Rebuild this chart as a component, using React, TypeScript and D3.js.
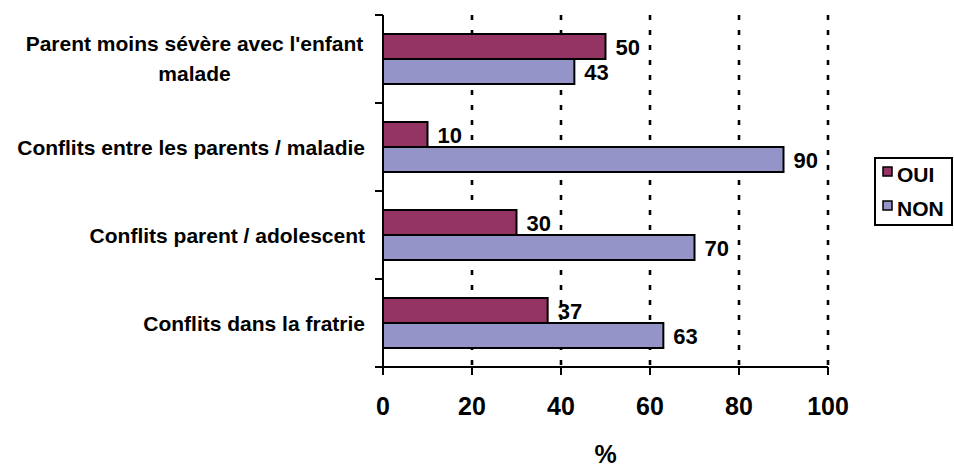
import React from "react";
import * as d3 from "d3";

const categories = [
  "Parent moins sévère avec l'enfant\nmalade",
  "Conflits entre les parents / maladie",
  "Conflits parent / adolescent",
  "Conflits dans la fratrie",
];
const seriesNames = ["OUI", "NON"];
const ouiValues = [50, 10, 30, 37];
const nonValues = [43, 90, 70, 63];
const xTicks = [0, 20, 40, 60, 80, 100];
const axisTitle = "%";

const colors = ["#943462", "#9494C8"];
const FONT = "'Liberation Sans', Arial, Helvetica, sans-serif";

export default function App() {
  const W = 954, H = 467;
  const left = 383, right = 828, top = 15, bottom = 367;
  const x = d3.scaleLinear().domain([0, 100]).range([left, right]);
  const y = d3.scaleBand<number>().domain(d3.range(categories.length)).range([top, bottom]).paddingInner(0).paddingOuter(0);
  const band = y.bandwidth();
  const groupH = 50;
  const inner = d3.scaleBand<number>().domain([0, 1]).range([0, groupH]);
  const series = [ouiValues, nonValues];
  const boundaries = d3.range(categories.length + 1).map((i) => top + i * band);

  return (
    <svg width={W} height={H} style={{ position: "absolute", left: 0, top: 0, background: "#fff" }} fontFamily={FONT} fontWeight="bold">
      {/* gridlines */}
      {xTicks.filter((t) => t > 0).map((t) => (
        <line key={"g" + t} x1={x(t)} x2={x(t)} y1={top} y2={bottom} stroke="#000" strokeWidth={2.6} strokeDasharray="5 10" />
      ))}
      {/* bars */}
      {categories.map((c, i) => {
        const y0 = (y(i) as number) + (band - groupH) / 2;
        return series.map((vals, s) => (
          <rect key={c + s} x={x(0)} y={y0 + (inner(s) as number)} width={x(vals[i]) - x(0)} height={inner.bandwidth()} fill={colors[s]} stroke="#000" strokeWidth={2} />
        ));
      })}
      {/* value labels */}
      {categories.map((c, i) => {
        const y0 = (y(i) as number) + (band - groupH) / 2;
        return series.map((vals, s) => (
          <text key={"v" + c + s} x={x(vals[i]) + 10} y={y0 + (inner(s) as number) + inner.bandwidth() / 2 + 8} fontSize={22} fill="#000">
            {vals[i]}
          </text>
        ));
      })}
      {/* y axis */}
      <line x1={left} x2={left} y1={top} y2={bottom} stroke="#000" strokeWidth={2} />
      {boundaries.map((b, i) => (
        <line key={"yt" + i} x1={left - 8} x2={left} y1={b} y2={b} stroke="#000" strokeWidth={2} />
      ))}
      {/* x axis */}
      <line x1={left - 8} x2={right} y1={bottom} y2={bottom} stroke="#000" strokeWidth={2} />
      {xTicks.map((t) => (
        <g key={"xt" + t}>
          <line x1={x(t)} x2={x(t)} y1={bottom} y2={bottom + 8} stroke="#000" strokeWidth={2} />
          <text x={x(t)} y={415} textAnchor="middle" fontSize={25} fill="#000">{t}</text>
        </g>
      ))}
      <text x={(left + right) / 2} y={463} textAnchor="middle" fontSize={25} fill="#000">{axisTitle}</text>
      {/* category labels */}
      {categories.map((c, i) => {
        const lines = c.split("\n");
        const cy = (y(i) as number) + band / 2;
        if (lines.length === 1) {
          return (
            <text key={"c" + i} x={365} y={cy + 8} textAnchor="end" fontSize={21} fill="#000">{c}</text>
          );
        }
        return (
          <text key={"c" + i} x={194.5} y={cy - 15 + 8 - 1} textAnchor="middle" fontSize={21} fill="#000">
            {lines.map((l, k) => (
              <tspan key={k} x={194.5} dy={k === 0 ? 0 : 30}>{l}</tspan>
            ))}
          </text>
        );
      })}
      {/* legend */}
      <rect x={875} y={158} width={77} height={67} fill="#fff" stroke="#000" strokeWidth={2} />
      {seriesNames.map((n, s) => (
        <g key={"l" + n}>
          <rect x={883} y={167 + s * 34} width={9} height={9} fill={colors[s]} stroke="#000" strokeWidth={1.5} />
          <text x={897} y={182 + s * 34} fontSize={21} fill="#000">{n}</text>
        </g>
      ))}
    </svg>
  );
}
